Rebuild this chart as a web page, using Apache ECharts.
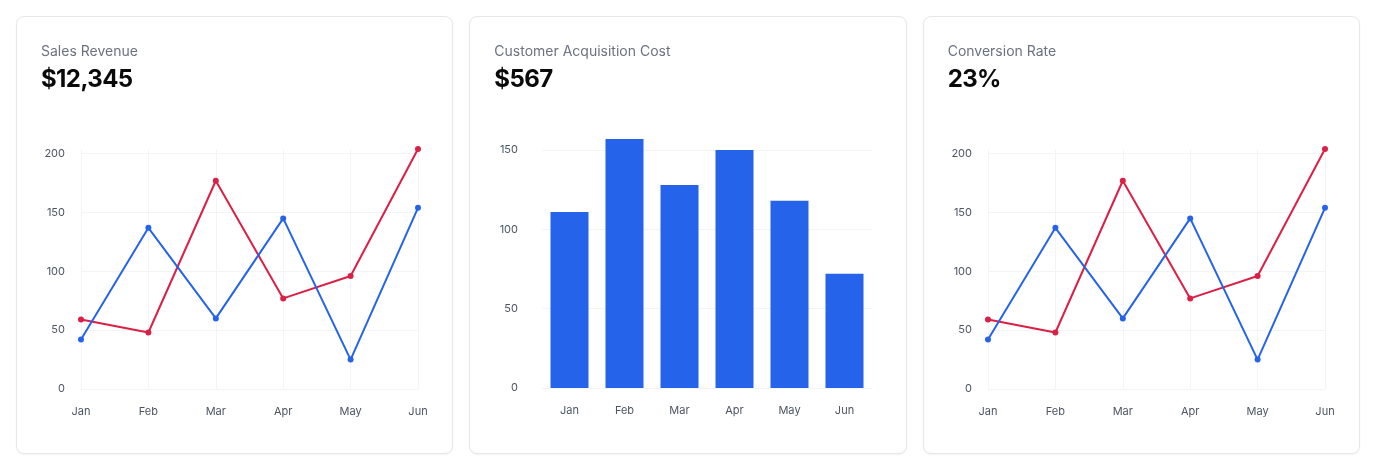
<!DOCTYPE html>
<html>
<head>
<meta charset="utf-8">
<script src="https://cdn.jsdelivr.net/npm/echarts@6/dist/echarts.min.js"></script>
<style>
  html, body { margin: 0; padding: 0; background: #ffffff; }
  body { width: 1376px; height: 471px; font-family: Inter, "Noto Sans", sans-serif; }
  .wrap { display: flex; gap: 16px; padding: 16px; box-sizing: border-box; width: 1376px; }
  .card { position: relative; flex: 1; height: 438px; box-sizing: border-box; border: 1px solid #e5e7eb;
          border-radius: 8px; background: #fff; box-shadow: 0 1px 2px rgba(0,0,0,0.05); }
  .hdr { position: absolute; left: 24px; top: 24px; z-index: 2; }
  .title { font-size: 14px; line-height: 20px; color: #6b7280; }
  .value { font-size: 24px; line-height: 32px; font-weight: 700; letter-spacing: -0.6px; color: #0a0a0a; margin-top: 2px; }
  .chart { position: absolute; left: 0; top: 0; right: 0; bottom: 0; }
</style>
</head>
<body>
<div class="wrap">
  <div class="card"><div class="hdr"><div class="title">Sales Revenue</div><div class="value">$12,345</div></div><div class="chart" id="c1"></div></div>
  <div class="card"><div class="hdr"><div class="title">Customer Acquisition Cost</div><div class="value">$567</div></div><div class="chart" id="c2"></div></div>
  <div class="card"><div class="hdr"><div class="title">Conversion Rate</div><div class="value">23%</div></div><div class="chart" id="c3"></div></div>
</div>
<script>
const months = ["Jan", "Feb", "Mar", "Apr", "May", "Jun"];
const lineBlue = [42, 137, 60, 145, 25, 154];
const lineRed = [59, 48, 177, 77, 96, 204];
const barValues = [111, 157, 128, 150, 118, 72];

const BLUE = "#2563eb";
const RED = "#dc1f45";
const GRID = "#f3f4f6";
const LABEL = "#4b5563";

function lineOption() {
  return {
    animation: false,
    grid: { left: 64, right: 34, top: 132, bottom: 64 },
    xAxis: {
      type: "category", data: months, boundaryGap: false,
      axisLine: { show: true, lineStyle: { color: GRID } },
      axisTick: { show: false },
      axisLabel: { color: LABEL, fontSize: 11, margin: 17, fontFamily: "Inter" },
      splitLine: { show: true, lineStyle: { color: GRID } }
    },
    yAxis: {
      type: "value", min: 0, max: "dataMax", interval: 50,
      axisLine: { show: false }, axisTick: { show: false },
      axisLabel: { color: LABEL, fontSize: 11, margin: 16, fontFamily: "Inter", showMaxLabel: false },
      splitLine: { show: true, showMaxLine: false, lineStyle: { color: GRID } }
    },
    series: [
      { type: "line", data: lineRed, color: RED, symbol: "circle", symbolSize: 6,
        lineStyle: { width: 2 }, itemStyle: { color: RED } },
      { type: "line", data: lineBlue, color: BLUE, symbol: "circle", symbolSize: 6,
        lineStyle: { width: 2 }, itemStyle: { color: BLUE } }
    ]
  };
}

const c1 = echarts.init(document.getElementById("c1"), null, { renderer: "canvas" });
c1.setOption(lineOption());
const c3 = echarts.init(document.getElementById("c3"), null, { renderer: "canvas" });
c3.setOption(lineOption());

const c2 = echarts.init(document.getElementById("c2"), null, { renderer: "canvas" });
c2.setOption({
  animation: false,
  grid: { left: 72, right: 33, top: 122, bottom: 65 },
  xAxis: {
    type: "category", data: months,
    axisLine: { show: true, lineStyle: { color: GRID } },
    axisTick: { show: false },
    axisLabel: { color: LABEL, fontSize: 11, margin: 17, fontFamily: "Inter" },
    splitLine: { show: false }
  },
  yAxis: {
    type: "value", min: 0, max: "dataMax", interval: 50,
    axisLine: { show: false }, axisTick: { show: false },
    axisLabel: { color: LABEL, fontSize: 11, margin: 24, fontFamily: "Inter", showMaxLabel: false },
    splitLine: { show: true, showMaxLine: false, lineStyle: { color: GRID } }
  },
  series: [
    { type: "bar", data: barValues, barWidth: 38, itemStyle: { color: BLUE } }
  ]
});
</script>
</body>
</html>
